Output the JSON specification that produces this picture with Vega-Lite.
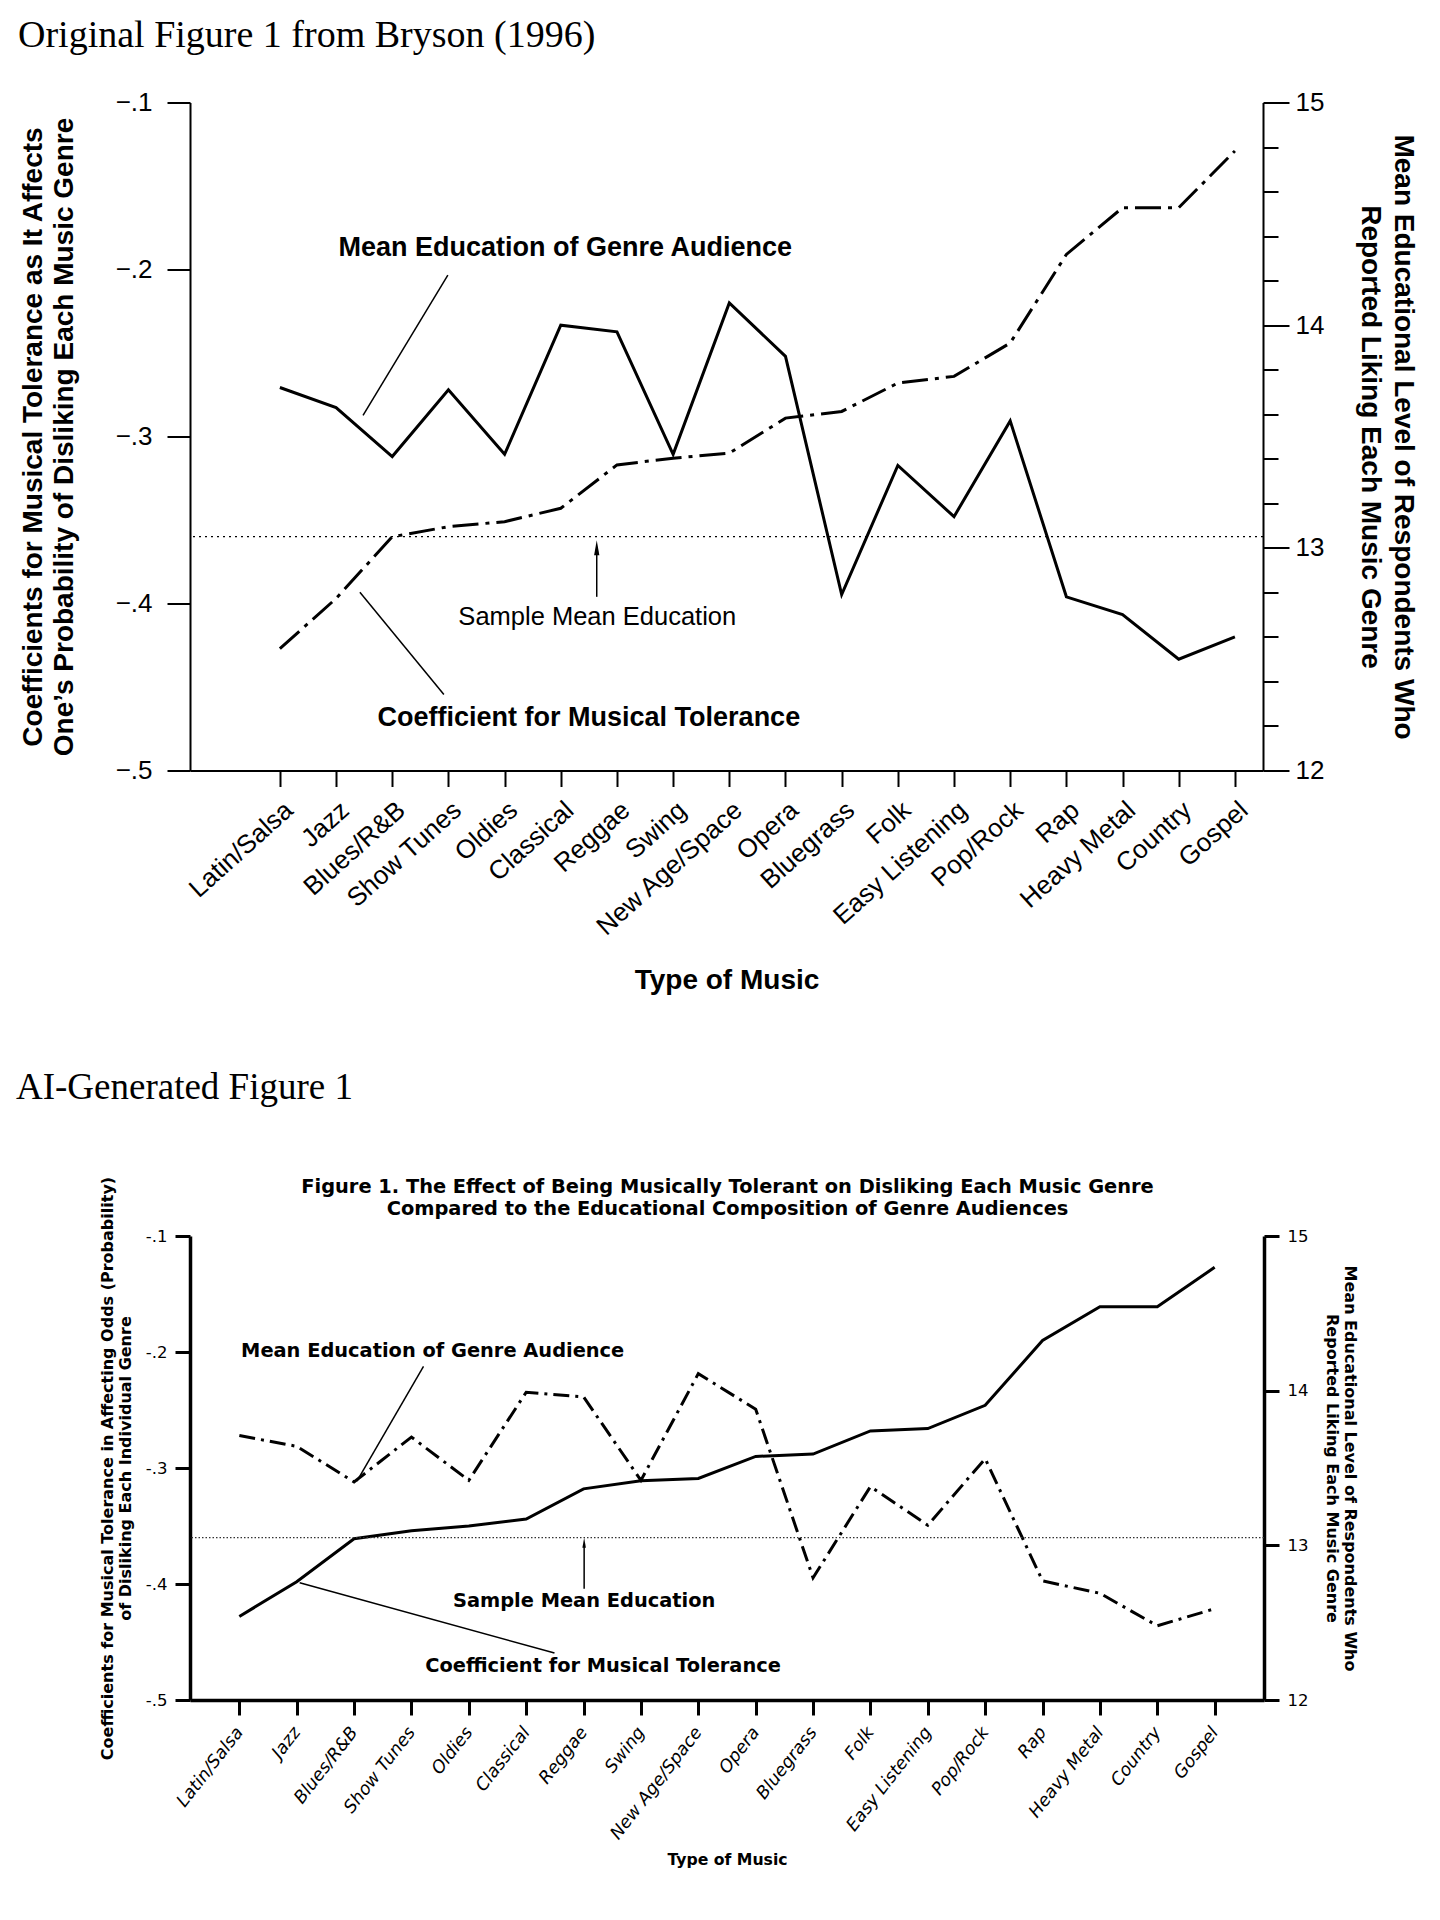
{
  "$schema": "https://vega.github.io/schema/vega-lite/v6.json",
  "background": "white",
  "padding": {"left": 16, "top": 16.5, "right": 5, "bottom": 5},
  "config": {
    "view": {"stroke": null},
    "axis": {"grid": false, "domainColor": "black", "tickColor": "black", "labelColor": "black", "titleColor": "black"},
    "title": {"color": "black"}
  },
  "spacing": 73.5,
  "datasets": {
    "orig": [
      {"genre": "Latin/Salsa", "i": 0, "coef": -0.427, "edu": 13.72},
      {"genre": "Jazz", "i": 1, "coef": -0.397, "edu": 13.63},
      {"genre": "Blues/R&B", "i": 2, "coef": -0.36, "edu": 13.41},
      {"genre": "Show Tunes", "i": 3, "coef": -0.354, "edu": 13.71},
      {"genre": "Oldies", "i": 4, "coef": -0.351, "edu": 13.42},
      {"genre": "Classical", "i": 5, "coef": -0.343, "edu": 14.0},
      {"genre": "Reggae", "i": 6, "coef": -0.317, "edu": 13.97},
      {"genre": "Swing", "i": 7, "coef": -0.313, "edu": 13.42},
      {"genre": "New Age/Space", "i": 8, "coef": -0.31, "edu": 14.1},
      {"genre": "Opera", "i": 9, "coef": -0.289, "edu": 13.86},
      {"genre": "Bluegrass", "i": 10, "coef": -0.285, "edu": 12.79},
      {"genre": "Folk", "i": 11, "coef": -0.268, "edu": 13.37},
      {"genre": "Easy Listening", "i": 12, "coef": -0.264, "edu": 13.14},
      {"genre": "Pop/Rock", "i": 13, "coef": -0.244, "edu": 13.57},
      {"genre": "Rap", "i": 14, "coef": -0.191, "edu": 12.78},
      {"genre": "Heavy Metal", "i": 15, "coef": -0.163, "edu": 12.7},
      {"genre": "Country", "i": 16, "coef": -0.163, "edu": 12.5},
      {"genre": "Gospel", "i": 17, "coef": -0.129, "edu": 12.6}
    ],
    "ai": [
      {"genre": "Latin/Salsa", "i": 0, "coef": -0.428, "edu": 13.71},
      {"genre": "Jazz", "i": 1, "coef": -0.398, "edu": 13.64},
      {"genre": "Blues/R&B", "i": 2, "coef": -0.361, "edu": 13.41},
      {"genre": "Show Tunes", "i": 3, "coef": -0.354, "edu": 13.7},
      {"genre": "Oldies", "i": 4, "coef": -0.35, "edu": 13.42},
      {"genre": "Classical", "i": 5, "coef": -0.344, "edu": 13.99},
      {"genre": "Reggae", "i": 6, "coef": -0.318, "edu": 13.96},
      {"genre": "Swing", "i": 7, "coef": -0.311, "edu": 13.42},
      {"genre": "New Age/Space", "i": 8, "coef": -0.309, "edu": 14.11},
      {"genre": "Opera", "i": 9, "coef": -0.29, "edu": 13.88},
      {"genre": "Bluegrass", "i": 10, "coef": -0.288, "edu": 12.79},
      {"genre": "Folk", "i": 11, "coef": -0.268, "edu": 13.38},
      {"genre": "Easy Listening", "i": 12, "coef": -0.266, "edu": 13.13},
      {"genre": "Pop/Rock", "i": 13, "coef": -0.246, "edu": 13.56},
      {"genre": "Rap", "i": 14, "coef": -0.19, "edu": 12.77},
      {"genre": "Heavy Metal", "i": 15, "coef": -0.161, "edu": 12.69},
      {"genre": "Country", "i": 16, "coef": -0.161, "edu": 12.48},
      {"genre": "Gospel", "i": 17, "coef": -0.127, "edu": 12.59}
    ]
  },
  "vconcat": [
    {
      "width": 1073,
      "height": 668,
      "title": {"text": "Original Figure 1 from  Bryson (1996)", "anchor": "start", "frame": "group", "dx": -172, "font": "Liberation Serif", "fontSize": 38, "fontWeight": "normal", "offset": 35},
      "data": {"name": "orig"},
      "layer": [
        {
          "encoding": {
            "y": {"field": "coef", "type": "quantitative", "scale": {"domain": [-0.5, -0.1], "nice": false, "zero": false},
              "axis": {"orient": "left", "values": [-0.5, -0.4, -0.3, -0.2, -0.1], "labelExpr": "replace(format(datum.value,'.1f'),'0.','.')", "labelFont": "Liberation Sans", "labelFontSize": 26, "labelPadding": 15, "labelFlush": false, "labelOverlap": false, "tickSize": 23, "tickWidth": 2, "domainWidth": 2,
                "title": ["Coefficients for Musical Tolerance as It Affects", "One’s Probability of Disliking Each Music Genre"], "titleFont": "Liberation Sans", "titleFontSize": 28, "titleFontWeight": "bold", "titleLineHeight": 31, "titlePadding": 37}}
          },
          "layer": [
            {
              "mark": {"type": "line", "color": "black", "strokeWidth": 3, "strokeDash": [26, 7, 4, 7]},
              "encoding": {
                "x": {"field": "i", "type": "quantitative", "scale": {"domain": [-1.6, 17.5], "nice": false, "zero": false},
                  "axis": {"orient": "bottom", "values": [0, 1, 2, 3, 4, 5, 6, 7, 8, 9, 10, 11, 12, 13, 14, 15, 16, 17], "labelExpr": "['Latin/Salsa','Jazz','Blues/R&B','Show Tunes','Oldies','Classical','Reggae','Swing','New Age/Space','Opera','Bluegrass','Folk','Easy Listening','Pop/Rock','Rap','Heavy Metal','Country','Gospel'][datum.value]", "labelAngle": -42, "labelFont": "Liberation Sans", "labelFontSize": 26, "labelPadding": 10, "labelLimit": 0, "labelOverlap": false, "labelFlush": false, "tickSize": 16, "tickWidth": 2, "domainWidth": 2,
                    "title": "Type of Music", "titleFont": "Liberation Sans", "titleFontSize": 28, "titleFontWeight": "bold", "titlePadding": 26}}
              }
            },
            {
              "data": {"values": [{"label": "Mean Education of Genre Audience", "i": 5.08, "coef": -0.192}, {"label": "Coefficient for Musical Tolerance", "i": 5.5, "coef": -0.4736}]},
              "mark": {"type": "text", "font": "Liberation Sans", "fontSize": 27, "fontWeight": "bold", "align": "center", "baseline": "alphabetic", "color": "black"},
              "encoding": {"x": {"field": "i", "type": "quantitative"}, "text": {"field": "label"}}
            },
            {
              "data": {"values": [{"label": "Sample Mean Education", "i": 5.65, "coef": -0.413}]},
              "mark": {"type": "text", "font": "Liberation Sans", "fontSize": 25.5, "fontWeight": "normal", "align": "center", "baseline": "alphabetic", "color": "black"},
              "encoding": {"x": {"field": "i", "type": "quantitative"}, "text": {"field": "label"}}
            },
            {
              "data": {"values": [{"i": 2.99, "coef": -0.2034, "i2": 1.48, "coef2": -0.2873}, {"i": 1.424, "coef": -0.3933, "i2": 2.919, "coef2": -0.4545}]},
              "mark": {"type": "rule", "color": "black", "strokeWidth": 1.5},
              "encoding": {"x": {"field": "i", "type": "quantitative"}, "x2": {"field": "i2"}, "y2": {"field": "coef2"}}
            }
          ]
        },
        {
          "encoding": {
            "y": {"field": "edu", "type": "quantitative", "scale": {"domain": [12, 15], "nice": false, "zero": false},
              "axis": {"orient": "right", "values": [12, 13, 14, 15], "format": "d", "labelFont": "Liberation Sans", "labelFontSize": 26, "labelPadding": 6, "labelFlush": false, "labelOverlap": false,
                "tickSize": 26, "tickWidth": 2, "domainWidth": 2,
                "title": ["Mean Educational Level of Respondents Who", "Reported Liking Each Music Genre"], "titleFont": "Liberation Sans", "titleFontSize": 28, "titleFontWeight": "bold", "titleLineHeight": 33, "titlePadding": 32}}
          },
          "layer": [
            {
              "mark": {"type": "line", "color": "black", "strokeWidth": 3},
              "encoding": {"x": {"field": "i", "type": "quantitative"}}
            },
            {
              "data": {"values": [{"i": 5.64, "edu": 12.78, "edu2": 13.0}]},
              "mark": {"type": "rule", "color": "black", "strokeWidth": 1.5},
              "encoding": {"x": {"field": "i", "type": "quantitative"}, "y2": {"field": "edu2"}}
            },
            {
              "data": {"values": [{"i": 5.64, "edu": 13.0}]},
              "mark": {"type": "point", "shape": "M0,-1L0.35,1L-0.35,1Z", "filled": true, "color": "black", "size": 225, "opacity": 1},
              "encoding": {"x": {"field": "i", "type": "quantitative"}}
            }
          ]
        },
        {
          "data": {"values": [{"edu": 13.05}]},
          "mark": {"type": "rule", "color": "black", "strokeWidth": 1.3, "strokeDash": [2, 4]},
          "encoding": {
            "y": {"field": "edu", "type": "quantitative", "scale": {"domain": [12, 15], "nice": false, "zero": false},
              "axis": {"orient": "right", "values": [12.2, 12.4, 12.6, 12.8, 13.2, 13.4, 13.6, 13.8, 14.2, 14.4, 14.6, 14.8], "labels": false, "domain": false, "tickSize": 15, "tickWidth": 2, "title": null}}
          }
        }
      ],
      "resolve": {"scale": {"y": "independent"}}
    },
    {
      "width": 1074,
      "height": 464,
      "title": {"text": "AI-Generated Figure 1", "anchor": "start", "frame": "group", "dx": -174, "font": "Liberation Serif", "fontSize": 37, "fontWeight": "normal", "offset": 69},
      "data": {"name": "ai"},
      "layer": [
        {
          "encoding": {
            "y": {"field": "coef", "type": "quantitative", "scale": {"domain": [-0.5, -0.1], "nice": false, "zero": false},
              "axis": {"orient": "left", "values": [-0.5, -0.4, -0.3, -0.2, -0.1], "labelExpr": "replace(replace(format(datum.value,'.1f'),'0.','.'),'−','-')", "labelFont": "DejaVu Sans", "labelFontSize": 16.5, "labelPadding": 8, "labelFlush": false, "labelOverlap": false, "tickSize": 15, "tickWidth": 3, "domainWidth": 3.5,
                "title": ["Coefficients for Musical Tolerance in Affecting Odds (Probability)", "of Disliking Each Individual Genre"], "titleFont": "DejaVu Sans", "titleFontSize": 16, "titleFontWeight": "bold", "titleLineHeight": 18, "titlePadding": 12}}
          },
          "layer": [
            {
              "mark": {"type": "line", "color": "black", "strokeWidth": 3},
              "encoding": {
                "x": {"field": "i", "type": "quantitative", "scale": {"domain": [-0.86, 17.86], "nice": false, "zero": false},
                  "axis": {"orient": "bottom", "values": [0, 1, 2, 3, 4, 5, 6, 7, 8, 9, 10, 11, 12, 13, 14, 15, 16, 17], "labelExpr": "['Latin/Salsa','Jazz','Blues/R&B','Show Tunes','Oldies','Classical','Reggae','Swing','New Age/Space','Opera','Bluegrass','Folk','Easy Listening','Pop/Rock','Rap','Heavy Metal','Country','Gospel'][datum.value]", "labelAngle": -52, "labelFont": "DejaVu Sans", "labelFontStyle": "italic", "labelFontSize": 17.5, "labelPadding": 14, "labelLimit": 0, "labelOverlap": false, "labelFlush": false, "tickSize": 15, "tickWidth": 3, "domainWidth": 3.5,
                    "title": "Type of Music", "titleFont": "DejaVu Sans", "titleFontSize": 15.7, "titleFontWeight": "bold", "titlePadding": 10}}
              }
            },
            {
              "data": {"values": [{"label": "Mean Education of Genre Audience", "i": 3.37, "coef": -0.2043}, {"label": "Sample Mean Education", "i": 6.01, "coef": -0.42}, {"label": "Coefficient for Musical Tolerance", "i": 6.34, "coef": -0.4762}]},
              "mark": {"type": "text", "font": "DejaVu Sans", "fontSize": 19.4, "fontWeight": "bold", "align": "center", "baseline": "alphabetic", "color": "black"},
              "encoding": {"x": {"field": "i", "type": "quantitative"}, "text": {"field": "label"}}
            },
            {
              "data": {"values": [{"i": 3.21, "coef": -0.2124, "i2": 2.05, "coef2": -0.3114}, {"i": 1.052, "coef": -0.3989, "i2": 5.493, "coef2": -0.4595}]},
              "mark": {"type": "rule", "color": "black", "strokeWidth": 1.5},
              "encoding": {"x": {"field": "i", "type": "quantitative"}, "x2": {"field": "i2"}, "y2": {"field": "coef2"}}
            }
          ]
        },
        {
          "encoding": {
            "y": {"field": "edu", "type": "quantitative", "scale": {"domain": [12, 15], "nice": false, "zero": false},
              "axis": {"orient": "right", "values": [12, 13, 14, 15], "format": "d", "labelFont": "DejaVu Sans", "labelFontSize": 16.5, "labelPadding": 8, "labelFlush": false, "labelOverlap": false, "tickSize": 15, "tickWidth": 3, "domainWidth": 3.5,
                "title": ["Mean Educational Level of Respondents Who", "Reported Liking Each Music Genre"], "titleFont": "DejaVu Sans", "titleFontSize": 16, "titleFontWeight": "bold", "titleLineHeight": 18, "titlePadding": 16}}
          },
          "layer": [
            {
              "mark": {"type": "line", "color": "black", "strokeWidth": 3, "strokeDash": [16, 6, 3, 6]},
              "encoding": {
                "x": {"field": "i", "type": "quantitative",
                  "axis": {"orient": "top", "domain": false, "ticks": false, "labels": false,
                    "title": ["Figure 1. The Effect of Being Musically Tolerant on Disliking Each Music Genre", "Compared to the Educational Composition of Genre Audiences"], "titleFont": "DejaVu Sans", "titleFontSize": 19.4, "titleFontWeight": "bold", "titleLineHeight": 22, "titlePadding": 18}}
              }
            },
            {
              "data": {"values": [{"edu": 13.05}]},
              "mark": {"type": "rule", "color": "#333333", "strokeWidth": 1.2, "strokeDash": [1.5, 2]},
              "encoding": {}
            },
            {
              "data": {"values": [{"i": 6.01, "edu": 12.72, "edu2": 13.0}]},
              "mark": {"type": "rule", "color": "black", "strokeWidth": 1.5},
              "encoding": {"x": {"field": "i", "type": "quantitative"}, "y2": {"field": "edu2"}}
            },
            {
              "data": {"values": [{"i": 6.01, "edu": 13.016}]},
              "mark": {"type": "point", "shape": "M0,-1L0.35,1L-0.35,1Z", "filled": true, "color": "black", "size": 100, "opacity": 1},
              "encoding": {"x": {"field": "i", "type": "quantitative"}}
            }
          ]
        }
      ],
      "resolve": {"scale": {"y": "independent"}, "axis": {"x": "independent"}}
    }
  ]
}
